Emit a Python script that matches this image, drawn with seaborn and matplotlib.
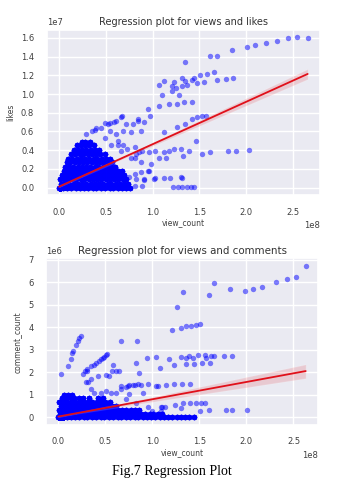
import numpy as np
import pandas as pd
import seaborn as sns
import matplotlib.pyplot as plt

VIEW_UNIT = 1e8
LIKE_UNIT = 1e7
COMMENT_UNIT = 1e6

# ---------------- views vs likes ----------------
likes_out_views = [2.66, 2.55, 2.45, 2.33, 2.21, 2.10, 2.01, 1.85, 1.69, 1.62, 1.35,
                   1.86, 1.79, 1.69, 1.66, 1.58, 1.51, 1.44, 1.42, 1.35, 1.32, 1.23, 1.21, 1.12, 1.07, 1.37,
                   1.48, 1.55, 1.32, 1.25, 1.21, 1.10, 1.28,
                   0.95, 1.07, 1.18, 1.26, 1.34, 1.42,
                   1.57, 1.53, 1.48, 1.42, 1.35, 1.26, 0.84, 0.97, 0.91, 0.79,
                   2.03, 1.89, 1.81, 1.62, 1.53, 1.46, 1.39, 1.33, 1.30, 1.23, 1.18, 1.12, 1.07, 1.14,
                   1.12, 1.03, 0.96, 0.89, 0.82, 0.73,
                   0.67, 0.59, 0.52, 0.45, 0.38, 0.72, 0.88, 0.77, 0.68, 0.61, 0.54, 0.49, 0.63, 0.56,
                   0.66, 0.81,
                   0.29, 0.35, 0.40, 0.49, 0.54, 0.61, 0.66, 0.84, 0.63, 0.68, 0.81, 0.86, 0.77, 0.88,
                   0.98, 0.95, 0.88, 0.82, 0.91, 1.02, 0.81, 0.89,
                   0.96, 0.81, 0.75, 0.91, 1.03, 1.12, 1.19, 1.32, 1.31,
                   1.22, 1.27, 1.32, 1.37, 1.41, 1.44]
likes_out_likes = [1.60, 1.61, 1.60, 1.57, 1.55, 1.53, 1.50, 1.47, 1.41, 1.41, 1.34,
                   1.17, 1.16, 1.15, 1.24, 1.21, 1.20, 1.17, 1.15, 1.14, 1.17, 1.13, 1.09, 1.14, 1.10, 1.10,
                   1.12, 1.13, 1.09, 1.06, 1.03, 0.99, 0.99,
                   0.84, 0.87, 0.89, 0.89, 0.91, 0.92,
                   0.77, 0.76, 0.75, 0.73, 0.68, 0.65, 0.73, 0.76, 0.70, 0.68,
                   0.40, 0.39, 0.39, 0.38, 0.36, 0.50, 0.39, 0.34, 0.41, 0.41, 0.39, 0.38, 0.32, 0.32,
                   0.59, 0.39, 0.38, 0.39, 0.36, 0.41,
                   0.76, 0.70, 0.68, 0.64, 0.62, 0.68, 0.60, 0.59, 0.61, 0.57, 0.61, 0.53, 0.46, 0.46,
                   0.39, 0.32,
                   0.57, 0.60, 0.64, 0.69, 0.69, 0.71, 0.75, 0.71, 0.50, 0.46, 0.43, 0.38, 0.32, 0.27,
                   0.25, 0.18, 0.17, 0.09, 0.09, 0.09, 0.02, 0.02,
                   0.18, 0.15, 0.11, 0.08, 0.10, 0.10, 0.10, 0.10, 0.11,
                   0.01, 0.01, 0.01, 0.01, 0.01, 0.01]

# dense, heavily overplotted region near the origin (rows: likes level -> views)
likes_cluster_levels = [0.00, 0.04, 0.09, 0.13, 0.18, 0.22, 0.27, 0.31, 0.36, 0.40, 0.45, 0.49]
likes_cluster_views = [
    [0.00, 0.04, 0.09, 0.13, 0.18, 0.22, 0.27, 0.31, 0.36, 0.40, 0.45, 0.49, 0.54, 0.58, 0.63, 0.67, 0.72, 0.76],
    [0.02, 0.07, 0.11, 0.16, 0.20, 0.25, 0.29, 0.34, 0.38, 0.43, 0.47, 0.52, 0.56, 0.61, 0.65, 0.70, 0.74],
    [0.01, 0.05, 0.09, 0.14, 0.18, 0.23, 0.27, 0.32, 0.36, 0.41, 0.45, 0.50, 0.54, 0.59, 0.63, 0.68, 0.72],
    [0.03, 0.07, 0.12, 0.16, 0.21, 0.25, 0.30, 0.34, 0.39, 0.43, 0.48, 0.52, 0.57, 0.61, 0.66, 0.70],
    [0.05, 0.09, 0.14, 0.18, 0.23, 0.27, 0.32, 0.36, 0.41, 0.45, 0.50, 0.54, 0.59, 0.63, 0.67],
    [0.06, 0.11, 0.15, 0.20, 0.24, 0.29, 0.33, 0.38, 0.42, 0.47, 0.51, 0.56, 0.60],
    [0.08, 0.12, 0.17, 0.21, 0.26, 0.30, 0.35, 0.39, 0.44, 0.48, 0.53, 0.57],
    [0.10, 0.14, 0.19, 0.23, 0.28, 0.32, 0.37, 0.41, 0.46, 0.50, 0.54],
    [0.13, 0.17, 0.22, 0.26, 0.31, 0.35, 0.40, 0.44, 0.49],
    [0.16, 0.20, 0.25, 0.29, 0.34, 0.38, 0.43],
    [0.19, 0.23, 0.28, 0.32, 0.37],
    [0.24, 0.28, 0.33],
]
# the very dense core right at the origin
likes_core_views = [0.01, 0.02, 0.03, 0.04, 0.05, 0.06, 0.08, 0.10, 0.03, 0.06]
likes_core_likes = [0.00, 0.01, 0.01, 0.02, 0.02, 0.03, 0.03, 0.04, 0.03, 0.01]
likes_cluster_repeat = 8     # estimated overplotting per cluster mark
likes_core_repeat = 300      # estimated overplotting per core mark

# ---------------- views vs comments ----------------
comm_out_views = [2.63, 2.53, 2.43, 2.31, 2.17, 2.07, 1.99, 1.82, 1.66, 1.60, 1.33, 1.26,
                  1.21, 1.30, 1.36, 1.41, 1.46, 1.51,
                  0.03, 0.10, 0.13, 0.14, 0.16, 0.19, 0.21, 0.22, 0.24,
                  0.26, 0.28, 0.30, 0.35, 0.38, 0.40, 0.43, 0.45, 0.47, 0.49, 0.51, 0.52,
                  0.67, 0.84,
                  0.94, 1.04, 1.18, 1.30, 1.39, 1.49, 1.56, 1.62, 1.66, 1.76, 1.85, 1.36, 1.43, 1.57,
                  0.83, 1.08, 1.23, 1.36, 1.44, 1.53, 1.61, 0.86,
                  0.58, 0.54, 0.51, 0.61, 0.64, 0.42, 0.32, 0.57, 0.31,
                  0.75, 0.81, 0.88, 0.95, 1.04, 1.14, 1.23, 1.32, 1.40, 0.67, 0.72,
                  0.90, 0.75, 0.61,
                  1.24, 1.33, 1.40, 1.46, 1.52, 1.56, 1.10,
                  1.51, 1.60, 1.78, 1.85, 2.01,
                  0.35, 0.38, 0.45, 0.51, 0.56, 0.67, 0.74, 0.79, 0.85, 1.06,
                  0.72, 0.83, 0.95, 1.09, 1.00, 1.09, 1.13, 1.30, 1.09, 0.35, 0.29]
comm_out_comments = [6.73, 6.22, 6.17, 6.04, 5.78, 5.73, 5.60, 5.73, 5.97, 5.44, 5.57, 4.89,
                     3.90, 3.98, 4.05, 4.08, 4.11, 4.14,
                     1.92, 2.28, 2.58, 2.87, 2.95, 3.24, 3.39, 3.54, 3.64,
                     1.92, 2.05, 2.14, 2.28, 2.35, 2.43, 2.50, 2.58, 2.64, 2.70, 2.76, 2.80,
                     3.39, 3.39,
                     2.65, 2.68, 2.61, 2.68, 2.73, 2.76, 2.76, 2.73, 2.73, 2.73, 2.73, 2.65, 2.65, 2.65,
                     2.40, 2.21, 2.31, 2.36, 2.36, 2.40, 2.40, 1.96,
                     2.31, 1.84, 1.87, 2.06, 2.06, 1.84, 1.58, 2.05, 2.06,
                     1.43, 1.44, 1.46, 1.49, 1.40, 1.43, 1.47, 1.47, 1.47, 1.40, 1.33,
                     1.10, 1.03, 1.10,
                     0.55, 0.63, 0.63, 0.66, 0.66, 0.66, 0.47,
                     0.29, 0.34, 0.32, 0.32, 0.32,
                     1.25, 1.10, 1.10, 1.18, 1.10, 1.28, 1.40, 1.44, 1.47, 1.40,
                     0.81, 0.66, 0.44, 0.44, 0.29, 0.29, 0.44, 0.40, 0.10, 1.69, 1.59]

comm_cluster_levels = [0.00, 0.15, 0.33, 0.50, 0.67, 0.84, 1.00]
comm_cluster_views = [
    [0.00, 0.04, 0.09, 0.13, 0.18, 0.22, 0.27, 0.31, 0.36, 0.40, 0.45, 0.49, 0.54, 0.58, 0.63, 0.67, 0.72,
     0.76, 0.81, 0.85, 0.90, 0.94, 0.99, 1.03, 1.08, 1.12, 1.17, 1.21, 1.26, 1.30, 1.35, 1.39, 1.44],
    [0.02, 0.07, 0.11, 0.16, 0.20, 0.25, 0.29, 0.34, 0.38, 0.43, 0.47, 0.52, 0.56, 0.61, 0.65, 0.70, 0.74,
     0.79, 0.83, 0.88, 0.92, 0.97, 1.01, 1.06, 1.10],
    [0.01, 0.05, 0.09, 0.14, 0.18, 0.23, 0.27, 0.32, 0.36, 0.41, 0.45, 0.50, 0.54, 0.59, 0.63, 0.68, 0.72,
     0.77, 0.81, 0.86],
    [0.03, 0.07, 0.12, 0.16, 0.21, 0.25, 0.30, 0.34, 0.39, 0.43, 0.48, 0.52, 0.57, 0.61],
    [0.01, 0.05, 0.09, 0.14, 0.18, 0.23, 0.27, 0.32, 0.36, 0.41, 0.45, 0.50, 0.55],
    [0.04, 0.08, 0.13, 0.17, 0.22, 0.26, 0.33, 0.42, 0.48],
    [0.06, 0.10, 0.15],
]
comm_core_views = [0.01, 0.02, 0.04, 0.06, 0.08, 0.10, 0.03, 0.05]
comm_core_comments = [0.01, 0.02, 0.03, 0.05, 0.05, 0.08, 0.05, 0.02]
comm_cluster_repeat = 8
comm_core_repeat = 300

x_ticks = [0.0, 0.5, 1.0, 1.5, 2.0, 2.5]
likes_ticks = [0.0, 0.2, 0.4, 0.6, 0.8, 1.0, 1.2, 1.4, 1.6]
comment_ticks = [0, 1, 2, 3, 4, 5, 6, 7]


def expand(levels, rows):
    xs, ys = [], []
    for lv, row in zip(levels, rows):
        xs += row
        ys += [lv] * len(row)
    return xs, ys


lcx, lcy = expand(likes_cluster_levels, likes_cluster_views)
ccx, ccy = expand(comm_cluster_levels, comm_cluster_views)

df_likes = pd.DataFrame({
    "view_count": np.array(likes_out_views + lcx * likes_cluster_repeat
                           + likes_core_views * likes_core_repeat) * VIEW_UNIT,
    "likes": np.array(likes_out_likes + lcy * likes_cluster_repeat
                      + likes_core_likes * likes_core_repeat) * LIKE_UNIT,
})
df_comm = pd.DataFrame({
    "view_count": np.array(comm_out_views + ccx * comm_cluster_repeat
                           + comm_core_views * comm_core_repeat) * VIEW_UNIT,
    "comment_count": np.array(comm_out_comments + ccy * comm_cluster_repeat
                              + comm_core_comments * comm_core_repeat) * COMMENT_UNIT,
})

sns.set_theme(style="darkgrid")
plt.rcParams["font.family"] = ["DejaVu Sans"]

fig = plt.figure(figsize=(3.38, 4.84), dpi=100)
ax1 = fig.add_axes([0.138, 0.597, 0.809, 0.342])
ax2 = fig.add_axes([0.136, 0.122, 0.805, 0.344])

sk = dict(color="blue", alpha=0.5, s=15, linewidths=0)
lk = dict(color="#e0101a", lw=1.3)

sns.regplot(data=df_likes, x="view_count", y="likes", ax=ax1, color="red", ci=68,
            scatter_kws=sk, line_kws=lk, seed=0)
sns.regplot(data=df_comm, x="view_count", y="comment_count", ax=ax2, color="red", ci=85,
            scatter_kws=sk, line_kws=lk, seed=0)

ax1.set_title("Regression plot for views and likes", fontsize=7, pad=3, color=".2")
ax2.set_title("Regression plot for views and comments", fontsize=7.4, pad=3, color=".2")
ax1.set_yticks(np.array(likes_ticks) * LIKE_UNIT)
ax2.set_yticks(np.array(comment_ticks) * COMMENT_UNIT)
for ax in (ax1, ax2):
    ax.set_xticks(np.array(x_ticks) * VIEW_UNIT)
    ax.tick_params(labelsize=6, colors=".25")
    ax.tick_params(axis="x", pad=3)
    ax.tick_params(axis="y", pad=3)
    ax.xaxis.label.set_size(5.5)
    ax.yaxis.label.set_size(5.5)
    ax.xaxis.labelpad = 1
    ax.yaxis.labelpad = 4
    ax.xaxis.get_offset_text().set_fontsize(6)
    ax.yaxis.get_offset_text().set_fontsize(6)
    ax.xaxis.label.set_color(".25")
    ax.yaxis.label.set_color(".25")

fig.text(0.508, 0.025, "Fig.7 Regression Plot", ha="center", va="center",
         fontsize=10, family=["Liberation Serif"], color="black")

fig.savefig("out.png", dpi=100)
